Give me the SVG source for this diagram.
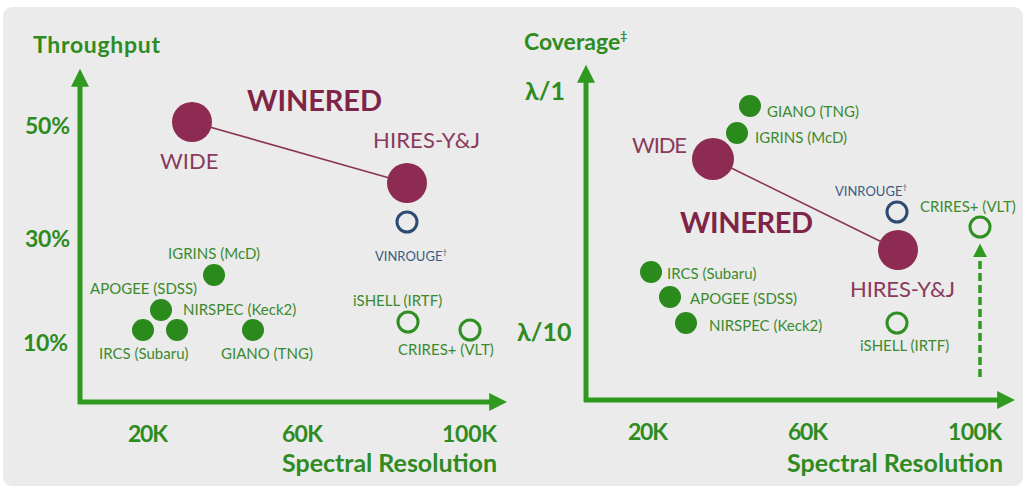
<svg xmlns="http://www.w3.org/2000/svg" width="1029" height="491" viewBox="0 0 1029 491">
<defs>
<style>
.ax{stroke:#2f9a1f;stroke-width:5;fill:none}
.axl{font-family:Lato,"Open Sans",sans-serif;font-weight:bold;fill:#2e8b22}
.lab{font-family:Lato,"Open Sans",sans-serif;font-size:15px;fill:#3b8a2e}
.dot{fill:#2a8a1c}
.ogr{fill:none;stroke:#2f8f22;stroke-width:3}
.obl{fill:none;stroke:#2d4a72;stroke-width:3}
.big{fill:#8e2b52}
.link{stroke:#8a3556;stroke-width:1.6}
.win{font-family:Lato,"Open Sans",sans-serif;font-weight:bold;font-size:29px;fill:#7f2446}
.mode{font-family:Lato,"Open Sans",sans-serif;font-size:22px;fill:#8a3a5c}
.vin{font-family:Lato,"Open Sans",sans-serif;font-size:13px;fill:#3f5a80}
</style>
<marker id="ah" viewBox="0 0 10 10" refX="6" refY="5" markerWidth="3.6" markerHeight="3.6" orient="auto" markerUnits="strokeWidth">
<path d="M0,0 L10,5 L0,10 z" fill="#2f9a1f"/>
</marker>
<marker id="ahd" viewBox="0 0 10 10" refX="6" refY="5" markerWidth="4" markerHeight="4" orient="auto" markerUnits="strokeWidth">
<path d="M0,0 L10,5 L0,10 z" fill="#2f9a1f"/>
</marker>
</defs>
<rect x="3" y="7" width="1020" height="479" rx="9" fill="#ebebeb"/>

<g id="connectors">
<line class="ax" x1="80" y1="404" x2="80" y2="76" marker-end="url(#ah)"/>
<line class="ax" x1="78" y1="402" x2="500" y2="402" marker-end="url(#ah)"/>
<line class="ax" x1="586" y1="402" x2="586" y2="72" marker-end="url(#ah)"/>
<line class="ax" x1="584" y1="400" x2="1008" y2="400" marker-end="url(#ah)"/>
<line x1="980" y1="377" x2="980" y2="249" stroke="#2f9a1f" stroke-width="3.5" stroke-dasharray="8,4" marker-end="url(#ahd)"/>
<line class="link" x1="192" y1="122" x2="407" y2="183"/>
<line class="link" x1="713" y1="159" x2="898" y2="250"/>
</g>

<g id="left-axes">
<text class="axl" x="33" y="53" font-size="23" textLength="127" lengthAdjust="spacing">Throughput</text>
<text class="axl" x="25" y="134" font-size="23" textLength="45" lengthAdjust="spacing">50%</text>
<text class="axl" x="25" y="247" font-size="23" textLength="45" lengthAdjust="spacing">30%</text>
<text class="axl" x="23" y="351" font-size="23" textLength="45" lengthAdjust="spacing">10%</text>
<text class="axl" x="128" y="442" font-size="23" textLength="40" lengthAdjust="spacing">20K</text>
<text class="axl" x="282" y="442" font-size="23" textLength="41" lengthAdjust="spacing">60K</text>
<text class="axl" x="442" y="442" font-size="23" textLength="55" lengthAdjust="spacing">100K</text>
<text class="axl" x="282" y="472" font-size="25" textLength="215" lengthAdjust="spacing">Spectral Resolution</text>
</g>

<g id="right-axes">
<text class="axl" x="524" y="50" font-size="23">Coverage<tspan font-size="12" dy="-10">‡</tspan></text>
<text class="axl" x="525" y="100" font-size="25">λ/1</text>
<text class="axl" x="517" y="341" font-size="25">λ/10</text>
<text class="axl" x="628" y="440" font-size="23" textLength="40" lengthAdjust="spacing">20K</text>
<text class="axl" x="788" y="440" font-size="23" textLength="40" lengthAdjust="spacing">60K</text>
<text class="axl" x="948" y="440" font-size="23" textLength="54" lengthAdjust="spacing">100K</text>
<text class="axl" x="787" y="472" font-size="25" textLength="216" lengthAdjust="spacing">Spectral Resolution</text>
</g>

<g id="left-winered-wide">
<circle class="big" cx="192" cy="122" r="20"/>
<text class="mode" x="160" y="169" font-size="19">WIDE</text>
</g>
<g id="left-winered-hires">
<circle class="big" cx="407" cy="183" r="20"/>
<text class="mode" x="373" y="148" textLength="107" lengthAdjust="spacing">HIRES-Y&amp;J</text>
</g>
<g id="left-winered-title"><text class="win" x="247" y="111" textLength="135" lengthAdjust="spacing">WINERED</text></g>
<g id="left-vinrouge">
<circle class="obl" cx="407" cy="222" r="10"/>
<text class="vin" x="375" y="261">VINROUGE<tspan font-size="8" dy="-6">†</tspan></text>
</g>
<g id="left-igrins">
<circle class="dot" cx="214" cy="275" r="11"/>
<text class="lab" x="168" y="259">IGRINS (McD)</text>
</g>
<g id="left-apogee">
<circle class="dot" cx="161" cy="310" r="11"/>
<text class="lab" x="90" y="294">APOGEE (SDSS)</text>
</g>
<g id="left-nirspec">
<circle class="dot" cx="177" cy="330" r="11"/>
<text class="lab" x="183" y="315">NIRSPEC (Keck2)</text>
</g>
<g id="left-ircs">
<circle class="dot" cx="143" cy="330" r="11"/>
<text class="lab" x="99" y="359">IRCS (Subaru)</text>
</g>
<g id="left-giano">
<circle class="dot" cx="253" cy="330" r="11"/>
<text class="lab" x="221" y="359">GIANO (TNG)</text>
</g>
<g id="left-ishell">
<circle class="ogr" cx="408" cy="322" r="10"/>
<text class="lab" x="353" y="306">iSHELL (IRTF)</text>
</g>
<g id="left-crires">
<circle class="ogr" cx="470" cy="330" r="10"/>
<text class="lab" x="398" y="355">CRIRES+ (VLT)</text>
</g>

<g id="right-winered-wide">
<circle class="big" cx="713" cy="159" r="21"/>
<text class="mode" x="632" y="153" textLength="55" lengthAdjust="spacing">WIDE</text>
</g>
<g id="right-winered-hires">
<circle class="big" cx="898" cy="250" r="20"/>
<text class="mode" x="850" y="297" textLength="105" lengthAdjust="spacing">HIRES-Y&amp;J</text>
</g>
<g id="right-winered-title"><text class="win" x="680" y="233" textLength="133" lengthAdjust="spacing">WINERED</text></g>
<g id="right-giano">
<circle class="dot" cx="750" cy="106" r="11"/>
<text class="lab" x="767" y="117">GIANO (TNG)</text>
</g>
<g id="right-igrins">
<circle class="dot" cx="737" cy="133" r="11"/>
<text class="lab" x="755" y="143">IGRINS (McD)</text>
</g>
<g id="right-vinrouge">
<circle class="obl" cx="897" cy="212" r="10"/>
<text class="vin" x="835" y="196">VINROUGE<tspan font-size="8" dy="-6">†</tspan></text>
</g>
<g id="right-crires">
<circle class="ogr" cx="980" cy="227" r="10"/>
<text class="lab" x="920" y="212">CRIRES+ (VLT)</text>
</g>
<g id="right-ircs">
<circle class="dot" cx="651" cy="272" r="11"/>
<text class="lab" x="667" y="279">IRCS (Subaru)</text>
</g>
<g id="right-apogee">
<circle class="dot" cx="670" cy="297" r="11"/>
<text class="lab" x="690" y="304">APOGEE (SDSS)</text>
</g>
<g id="right-nirspec">
<circle class="dot" cx="686" cy="323" r="11"/>
<text class="lab" x="709" y="331">NIRSPEC (Keck2)</text>
</g>
<g id="right-ishell">
<circle class="ogr" cx="897" cy="323" r="10"/>
<text class="lab" x="860" y="351">iSHELL (IRTF)</text>
</g>
</svg>
